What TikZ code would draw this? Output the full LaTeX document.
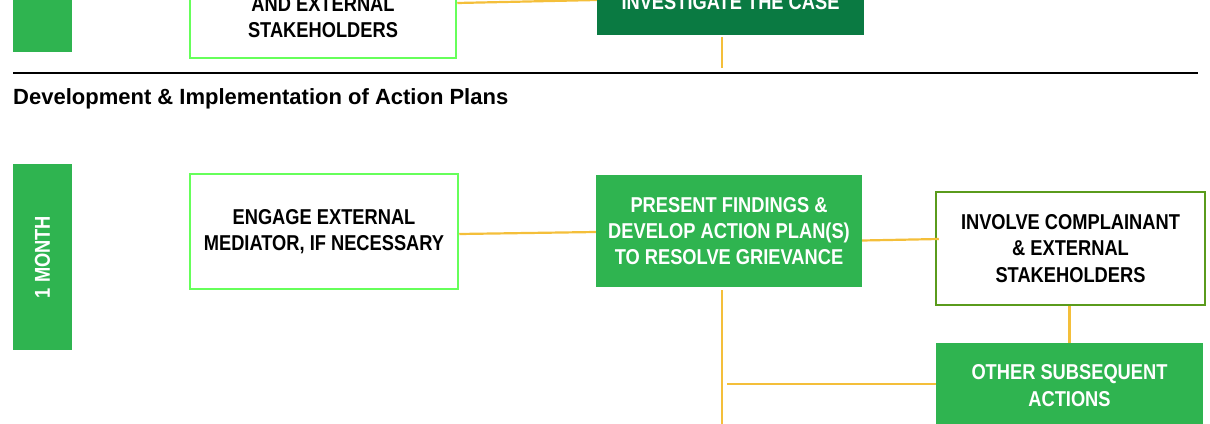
\documentclass[tikz,border=0pt]{standalone}
\usepackage{fontspec}
\newfontfamily\boxfont[FakeStretch=0.85]{Liberation Sans}
\newfontfamily\headfont{Liberation Sans}
\definecolor{gfill}{RGB}{47,180,80}
\definecolor{gdark}{RGB}{10,122,66}
\definecolor{glight}{RGB}{102,255,90}
\definecolor{golive}{RGB}{90,155,28}
\definecolor{cyel}{RGB}{244,191,58}
\tikzset{
  btext/.style={font=\boxfont\bfseries\fontsize{21.5}{26.3}\selectfont, align=center, inner sep=0pt},
  whitebox/.style={btext, draw=glight, line width=2.5pt, fill=white, text=black},
  olivebox/.style={btext, draw=golive, line width=2.5pt, fill=white, text=black},
  greenbox/.style={btext, fill=gfill, text=white},
  darkbox/.style={btext, fill=gdark, text=white},
  timebar/.style={btext, fill=gfill, text=white},
  conn/.style={draw=cyel, line width=2.2pt},
  rulestyle/.style={draw=black, line width=2.8pt}
}
\begin{document}
\begin{tikzpicture}[x=1pt,y=-1pt]
\useasboundingbox (0,0) rectangle (1210,423);
\clip (0,0) rectangle (1210,423);
% top section (cut)
\node[timebar, minimum width=59pt, minimum height=80pt] (bartop) at (42.5,12) {};
\node[whitebox, minimum width=266pt, minimum height=81.8pt] (stakeA) at (323,17.1) {AND EXTERNAL\\STAKEHOLDERS};
\node[darkbox, minimum width=267pt, minimum height=65.4pt] (invest) at (730.5,2.3) {INVESTIGATE THE CASE};
\coordinate (c1) at (0,3);
\coordinate (c0) at (0,0);
\draw[conn] (stakeA.east |- c1) -- (invest.west |- c0);
\coordinate (v1) at (722,68);
\draw[conn] ([yshift=-1.7pt]invest.south -| v1) -- (v1);
% rule and heading
\coordinate (rl) at (13,73);
\coordinate (rr) at (1198,73);
\draw[rulestyle] (rl) -- (rr);
\node[anchor=base west, inner sep=0pt, font=\headfont\bfseries\fontsize{22}{26}\selectfont] (head) at (13,104) {Development \& Implementation of Action Plans};
% second section
\node[timebar, rotate=90, minimum width=186pt, minimum height=59pt] (month) at (42.5,257) {1 MONTH};
\node[whitebox, minimum width=268pt, minimum height=115pt] (engage) at (324,231.5) {ENGAGE EXTERNAL\\MEDIATOR, IF NECESSARY};
\node[greenbox, minimum width=266pt, minimum height=112pt] (present) at (729,231) {PRESENT FINDINGS \&\\DEVELOP ACTION PLAN(S)\\TO RESOLVE GRIEVANCE};
\node[olivebox, minimum width=269pt, minimum height=113pt] (involve) at (1070.5,248.5) {INVOLVE COMPLAINANT\\\& EXTERNAL\\STAKEHOLDERS};
\node[greenbox, minimum width=267pt, minimum height=85pt] (other) at (1069.5,385.5) {OTHER SUBSEQUENT\\ACTIONS};
\draw[conn] ([yshift=-2.5pt]engage.east) -- ([yshift=-1pt]present.west);
\draw[conn] ([yshift=-9.5pt]present.east) -- ([yshift=9.5pt,xshift=4pt]involve.west);
\draw[conn] (involve.south -| other.north) -- (other.north);
\coordinate (bot) at (722,430);
\draw[conn] ([yshift=-3pt]present.south -| bot) -- (bot);
\coordinate (j) at (727,384);
\draw[conn] (j) -- (other.west |- j);
\end{tikzpicture}
\end{document}
